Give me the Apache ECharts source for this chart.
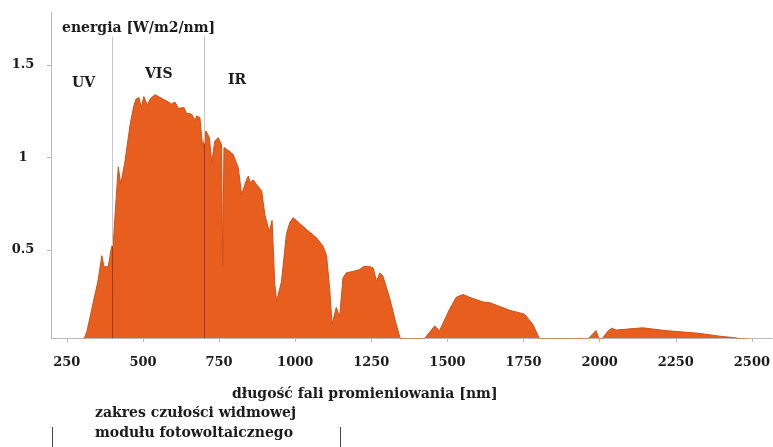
<!DOCTYPE html>
<html>
<head>
<meta charset="utf-8">
<script src="https://cdn.jsdelivr.net/npm/echarts@6/dist/echarts.min.js"></script>
<style>
html,body{margin:0;padding:0;background:#fff;}
#chart{width:773px;height:447px;}
</style>
</head>
<body>
<div id="chart"></div>
<script>
// wavelength [nm]
var wavelengths = [302,316,337,352,365,372,386,395,403,412,419,427,441,458,470,477,487,494,503,514,525,540,556,578,594,605,616,635,643,660,671,676,687,696,707,718,726,736,747,758,762,766,775,780,796,813,824,840,846,853,862,873,890,900,915,924,933,939,955,971,982,993,1004,1037,1070,1092,1103,1113,1121,1135,1146,1157,1168,1190,1212,1223,1239,1256,1267,1278,1288,1310,1332,1349,1414,1458,1474,1507,1529,1551,1573,1616,1639,1704,1753,1780,1808,1950,1988,2001,2026,2039,2054,2141,2217,2327,2392,2447,2469,2485];
// spectral irradiance [W/m2/nm]
var irradiance = [0,0.06,0.22,0.33,0.47,0.41,0.41,0.50,0.55,0.78,0.95,0.855,0.98,1.18,1.28,1.316,1.325,1.27,1.33,1.285,1.32,1.34,1.325,1.306,1.29,1.30,1.267,1.27,1.24,1.235,1.20,1.225,1.217,1.054,1.144,1.108,0.973,1.09,1.108,1.07,0.413,1.054,1.045,1.054,1.018,0.946,0.80,0.88,0.90,0.865,0.88,0.855,0.82,0.693,0.60,0.66,0.314,0.224,0.33,0.585,0.648,0.675,0.66,0.612,0.567,0.52,0.47,0.296,0.10,0.19,0.14,0.35,0.377,0.385,0.395,0.41,0.413,0.404,0.332,0.377,0.36,0.242,0.097,0,0,0.09,0.064,0.18,0.245,0.26,0.245,0.22,0.216,0.175,0.154,0.10,0,0,0.065,0.005,0.06,0.078,0.068,0.08,0.065,0.05,0.035,0.026,0.015,0];
var xTicks = [250,500,750,1000,1250,1500,1750,2000,2250,2500];
var yTicks = [0.5,1,1.5];
var bandEdges = [400,700];
var bandLabels = ['UV','VIS','IR'];

var FONT = '"DejaVu Serif", serif';
var TXT = '#1c1c1c';
var AX = '#b9b9b9';
var ORANGE = '#e85e1f';

var yMin = 0.025, yMax = 1.787, lineTop = 1.655;

function interp(x){
  for (var i=0;i<wavelengths.length-1;i++){
    if (x>=wavelengths[i] && x<=wavelengths[i+1]){
      var t=(x-wavelengths[i])/(wavelengths[i+1]-wavelengths[i]);
      return irradiance[i]+t*(irradiance[i+1]-irradiance[i]);
    }
  }
  return 0;
}

var seriesData = wavelengths.map(function(w,i){return [w, irradiance[i]];});

var chart = echarts.init(document.getElementById('chart'));
chart.setOption({
  animation:false,
  backgroundColor:'#fff',
  grid:{left:51,right:0,top:12,bottom:109},
  xAxis:{
    type:'value',min:198,max:2566,
    axisLine:{onZero:false,lineStyle:{color:AX,width:1}},
    axisTick:{show:true,length:4,customValues:xTicks,lineStyle:{color:AX}},
    axisLabel:{customValues:xTicks,formatter:function(v){return String(v);},color:TXT,fontFamily:FONT,fontWeight:'bold',fontSize:13,margin:18},
    splitLine:{show:false}
  },
  yAxis:{
    type:'value',min:yMin,max:yMax,
    axisLine:{show:true,onZero:false,lineStyle:{color:AX,width:1}},
    axisTick:{show:true,length:4,customValues:yTicks,lineStyle:{color:AX}},
    axisLabel:{customValues:yTicks,formatter:function(v){return String(v);},color:TXT,fontFamily:FONT,fontWeight:'bold',fontSize:13,margin:28,align:'center'},
    splitLine:{show:false}
  },
  series:[
    {
      type:'line',z:1,data:[],silent:true,
      markLine:{silent:true,symbol:'none',label:{show:false},
        lineStyle:{color:'#c8c8c8',width:1,type:'solid'},
        data:bandEdges.map(function(b){return [{coord:[b,yMin]},{coord:[b,lineTop]}];})
      }
    },
    {
      type:'line',z:2,data:seriesData,showSymbol:false,symbol:'none',
      lineStyle:{color:'#cf5118',width:1},
      areaStyle:{color:ORANGE,opacity:1},
      silent:true
    },
    {
      type:'line',z:3,data:[],silent:true,
      markLine:{silent:true,symbol:'none',label:{show:false},
        lineStyle:{color:'#9c3c14',width:1,type:'solid'},
        data:bandEdges.map(function(b){return [{coord:[b,yMin]},{coord:[b,interp(b)-0.01]}];})
      }
    }
  ],
  graphic:[
    {type:'text',left:62,top:21,style:{text:'energia [W/m2/nm]',fill:TXT,font:'bold 14px '+FONT}},
    {type:'text',left:72,top:76,style:{text:bandLabels[0],fill:TXT,font:'bold 14px '+FONT}},
    {type:'text',left:145,top:67,style:{text:bandLabels[1],fill:TXT,font:'bold 14px '+FONT}},
    {type:'text',left:228,top:73,style:{text:bandLabels[2],fill:TXT,font:'bold 14px '+FONT}},
    {type:'text',left:232,top:387,style:{text:'długość fali promieniowania [nm]',fill:TXT,font:'bold 14px '+FONT}},
    {type:'text',left:95,top:406,style:{text:'zakres czułości widmowej',fill:TXT,font:'bold 14px '+FONT}},
    {type:'text',left:95,top:426,style:{text:'modułu fotowoltaicznego',fill:TXT,font:'bold 14px '+FONT}},
    {type:'line',shape:{x1:52.5,y1:427,x2:52.5,y2:447},style:{stroke:'#444',lineWidth:1}},
    {type:'line',shape:{x1:340.5,y1:427,x2:340.5,y2:447},style:{stroke:'#444',lineWidth:1}}
  ]
});
</script>
</body>
</html>
